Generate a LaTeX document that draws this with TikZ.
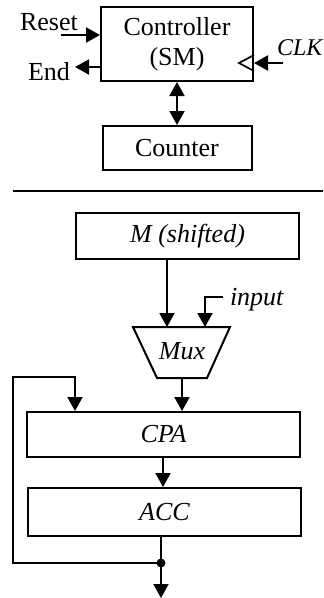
\documentclass[tikz,border=0pt]{standalone}
\usepackage{fontspec}
\setmainfont{Liberation Serif}
\usetikzlibrary{arrows.meta}
\begin{document}
\begin{tikzpicture}[x=1pt,y=-1pt,
  line width=2pt,
  every node/.style={font=\fontsize{26}{30}\selectfont},
  blk/.style={draw,line width=2pt,inner sep=0pt,anchor=center},
  arr/.style={-{Triangle[length=14pt,width=15pt]}},
  darr/.style={{Triangle[length=14pt,width=15pt]}-{Triangle[length=14pt,width=15pt]}},
  lbl/.style={inner sep=0pt}]
\useasboundingbox (0,0) rectangle (324,598);

% ---- control part ----
\node[blk,minimum width=152pt,minimum height=74pt,align=center] (ctrl) at (177,44) {Controller\\(SM)};
\node[blk,minimum width=149pt,minimum height=44pt] (cnt) at (177,148) {Counter};
\draw[darr] (ctrl.south) -- (cnt.north);

\node[lbl,anchor=base west] (reset) at (19,30) {Reset};
\coordinate (rst) at (61,35);
\draw[arr] (rst) -- (rst -| ctrl.west);

\node[lbl,anchor=base west] (endl) at (27,80) {End};
\coordinate (endtip) at (75,67);
\draw[arr] (endtip -| ctrl.west) -- (endtip);

% clock input
\coordinate (clkin) at (283,63);
\draw[line width=1.7pt] (ctrl.east |- 0,55) -- (239,63) -- (ctrl.east |- 0,71);
\draw[arr] (clkin) -- (clkin -| ctrl.east);
\node[lbl,anchor=base west,font=\fontsize{24}{28}\selectfont\itshape] (clk) at (276,55) {CLK};

% separator
\draw (13,191) -- (323,191);

% ---- datapath ----
\node[blk,minimum width=223pt,minimum height=46pt] (mreg) at (187.5,236) {\itshape M (shifted)};

% multiplexer
\coordinate (muxtl) at (133,327);
\coordinate (muxtr) at (230,327);
\coordinate (muxbr) at (207,378);
\coordinate (muxbl) at (157,378);
\draw[line join=miter] (muxtl) -- (muxtr) -- (muxbr) -- (muxbl) -- cycle;
\node[lbl] (mux) at (182,351) {\itshape Mux};
\coordinate (muxa) at (167,327);
\coordinate (muxb) at (205,327);
\coordinate (muxo) at (182,378);

\draw[arr] (mreg.south -| muxa) -- (muxa);
\coordinate (inp) at (223,297);
\draw[arr] (inp) -- (inp -| muxb) -- (muxb);
\node[lbl,anchor=base west] (inlbl) at (229,305) {\itshape input};

\node[blk,minimum width=273pt,minimum height=45pt] (cpa) at (163.5,434.5) {\itshape CPA};
\node[blk,minimum width=273pt,minimum height=48pt] (acc) at (164.5,512) {\itshape ACC};

\draw[arr] (muxo) -- (muxo |- cpa.north);
\coordinate (cpaacc) at (163,0);
\draw[arr] (cpaacc |- cpa.south) -- (cpaacc |- acc.north);

% output and feedback
\coordinate (tap) at (161,563);
\coordinate (out) at (161,598);
\coordinate (fbin) at (75,0);
\draw (tap |- acc.south) -- (tap);
\draw[arr] (tap) -- (out);
\fill (tap) circle (4.5pt);
\draw[arr] (tap) -- (13,563) -- (13,377) -- (fbin |- 0,377) -- (fbin |- cpa.north);
\end{tikzpicture}
\end{document}
